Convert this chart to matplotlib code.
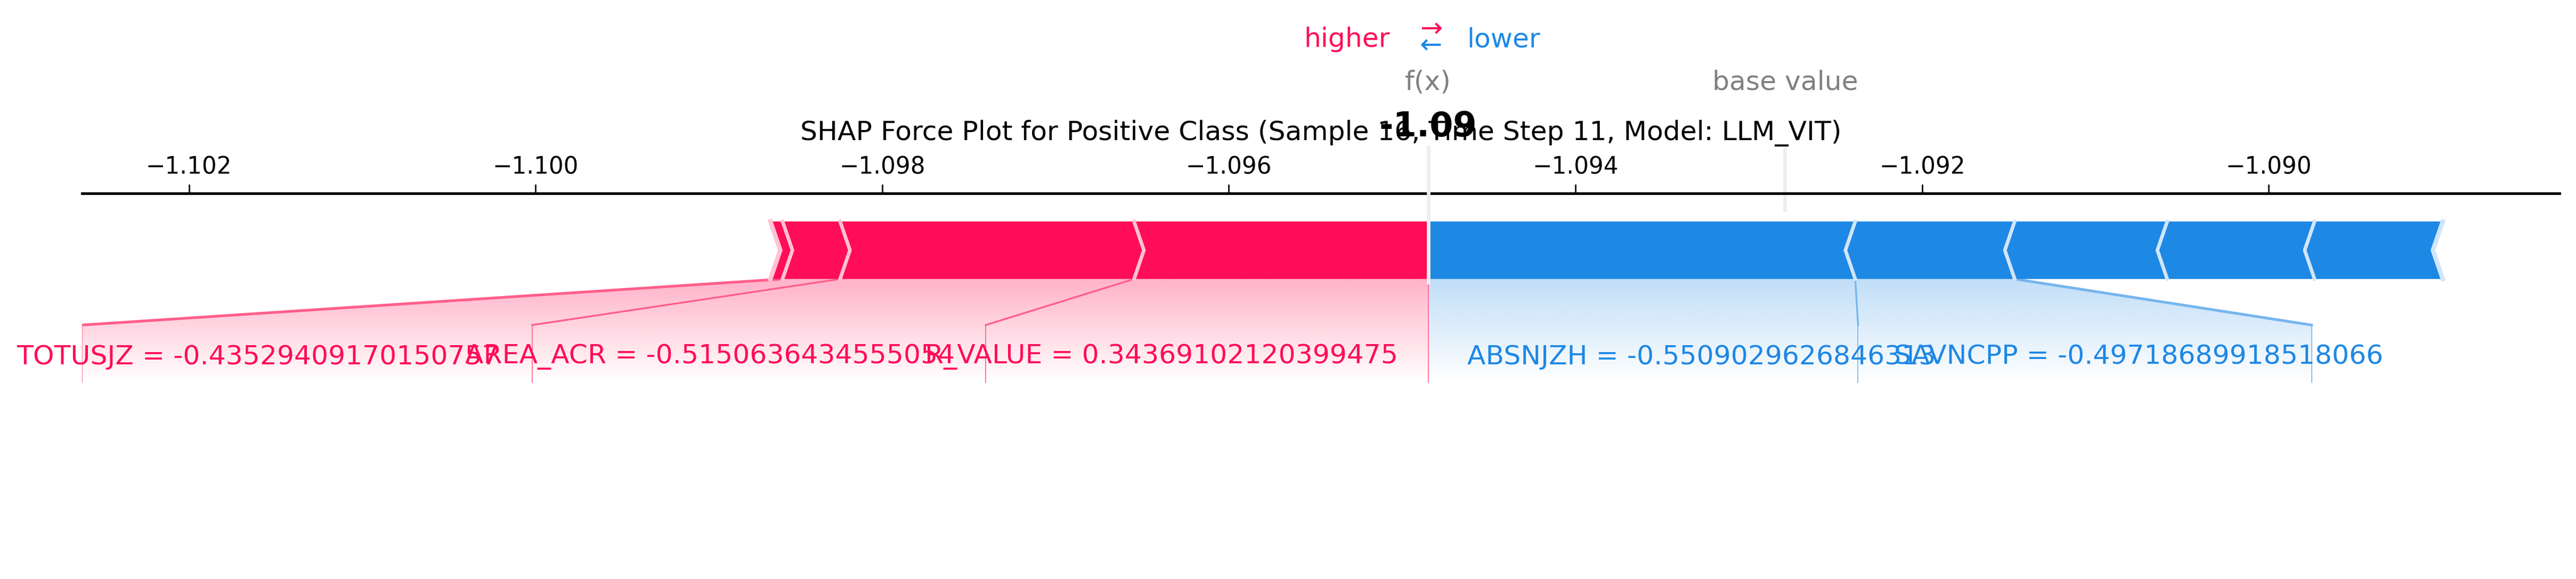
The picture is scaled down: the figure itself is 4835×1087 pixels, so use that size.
import numpy as np
import matplotlib
matplotlib.use('Agg')
import matplotlib.pyplot as plt
from matplotlib.patches import Polygon

# feature contributions
fx = -1.09485
pos_names = ['R_VALUE = 0.34369102120399475', 'AREA_ACR = -0.5150636434555054',
             'TOTUSJZ = -0.43529409170150757', '']
pos_vals = [0.001697, 0.001696, 0.000332, 0.00007]
neg_names = ['ABSNJZH = -0.5509029626846313', 'SAVNCPP = -0.49718689918518066', '', '', '']
neg_vals = [0.002464, 0.00092, 0.00088, 0.00085, 0.00074]
base_value = fx + sum(neg_vals) - sum(pos_vals)
xticks = [-1.102, -1.100, -1.098, -1.096, -1.094, -1.092, -1.090]
title = 'SHAP Force Plot for Positive Class (Sample 16, Time Step 11, Model: LLM_VIT)'

RED = '#ff0d57'
BLUE = '#1e88e5'

def px2x(px):
    # pixel column of the 1568-wide preview -> data value
    return -1.102 + (px - 115) / 105.5 * 0.001

W, H = 1568, 352.5
fig = plt.figure(figsize=(20, 4.5), dpi=241.75)
ax = fig.add_axes([50 / W, 0, (1558 - 50) / W, 1 - 118 / H])
ax.set_xlim(px2x(50), px2x(1558))
ax.set_ylim(H, 118)
for s in ['left', 'right', 'bottom']:
    ax.spines[s].set_visible(False)
ax.spines['top'].set_linewidth(1.5)
ax.xaxis.tick_top()
ax.set_xticks(xticks)
ax.set_xticklabels([f'{t:.3f}'.replace('-', '\u2212') for t in xticks], fontsize=13)
ax.tick_params(axis='x', length=5, width=0.8)
ax.set_yticks([])

top, mid, bot = 135, 152.5, 170
knee, lbot, ty = 198, 233, 217
w = px2x(6) - px2x(0)

red_edges = [fx]
for v in pos_vals:
    red_edges.append(red_edges[-1] - v)
blue_edges = [fx]
for v in neg_vals:
    blue_edges.append(blue_edges[-1] + v)

def grad(poly_pts, color, amax):
    rgb = matplotlib.colors.to_rgb(color)
    a = np.linspace(amax, 0.0, 100)
    img = np.zeros((100, 2, 4))
    img[..., :3] = rgb
    img[..., 3] = a[:, None]
    xs = [p[0] for p in poly_pts]
    im = ax.imshow(img, extent=(min(xs), max(xs), lbot, bot), aspect='auto',
                   origin='upper', zorder=1, interpolation='bilinear')
    patch = Polygon(poly_pts, closed=True, facecolor='none', edgecolor='none')
    ax.add_patch(patch)
    im.set_clip_path(patch)

# label anchors (pixel columns) of text lines
red_line_px = [600, 324, 50]
red_text_px = [563, 283, 10]
blue_line_px = [1131, 1407]
blue_text_px = [893, 1153]

grad([(red_edges[3], bot), (fx, bot), (fx, lbot), (px2x(50), lbot), (px2x(50), knee)], RED, 0.32)
grad([(fx, bot), (blue_edges[2], bot), (px2x(1407), knee), (px2x(1407), lbot), (fx, lbot)], BLUE, 0.28)

for i in range(len(pos_vals)):
    R, L = red_edges[i], red_edges[i + 1]
    wr = 0 if i == 0 else w
    ax.add_patch(Polygon([(L, top), (R, top), (R + wr, mid), (R, bot), (L, bot), (L + w, mid)],
                         closed=True, facecolor=RED, edgecolor='none', zorder=3))
    if i > 0:
        ax.plot([R, R + w, R], [top, mid, bot], color='#ffc3d5', lw=2, zorder=4)
L = red_edges[-1]
ax.plot([L, L + w, L], [top, mid, bot], color='#ffc3d5', lw=2.5, zorder=4)

for i in range(len(neg_vals)):
    L, R = blue_edges[i], blue_edges[i + 1]
    wl = 0 if i == 0 else w
    ax.add_patch(Polygon([(L, top), (R, top), (R - w, mid), (R, bot), (L, bot), (L - wl, mid)],
                         closed=True, facecolor=BLUE, edgecolor='none', zorder=3))
    if i > 0:
        ax.plot([L, L - w, L], [top, mid, bot], color='#d1e6fa', lw=2, zorder=4)
R = blue_edges[-1]
ax.plot([R, R - w, R], [top, mid, bot], color='#d1e6fa', lw=2.5, zorder=4)

for i, name in enumerate(pos_names[:3]):
    x0 = red_edges[i + 1]
    xl = px2x(red_line_px[i])
    ax.plot([x0, xl], [bot, knee], color='#ff5e8a', lw=1.5 if i == 2 else 1, zorder=2)
    ax.plot([xl, xl], [knee, lbot], color='#ff5e8a', lw=0.5, zorder=2)
    ax.text(px2x(red_text_px[i]), ty, name, color=RED, fontsize=15, va='center', ha='left', zorder=5)
for i, name in enumerate(neg_names[:2]):
    x0 = blue_edges[i + 1]
    xl = px2x(blue_line_px[i])
    ax.plot([x0, xl], [bot, knee], color='#76b5ee', lw=1.5 if i == 1 else 1, zorder=2)
    ax.plot([xl, xl], [knee, lbot], color='#76b5ee', lw=0.5, zorder=2)
    ax.text(px2x(blue_text_px[i]), ty, name, color=BLUE, fontsize=15, va='center', ha='left', zorder=5)
ax.plot([fx, fx], [bot, lbot], color='#ff5e8a', lw=0.5, zorder=2)

# f(x) and base value markers
ax.plot([fx, fx], [90, bot + 2], color='#eeeeee', lw=2, zorder=5, clip_on=False)
ax.plot([base_value, base_value], [90, 128], color='#eeeeee', lw=2, zorder=0, clip_on=False)
ax.text(fx, 50, 'f(x)', color='gray', fontsize=15, ha='center', va='center', clip_on=False)
ax.text(base_value, 50, 'base value', color='gray', fontsize=15, ha='center', va='center', clip_on=False)
ax.text(fx, 77, f'{fx:.2f}', color='black', fontsize=19, fontweight='bold', ha='center', va='center', clip_on=False)

# legend
ax.text(px2x(846), 24, 'higher', color=RED, fontsize=15, ha='right', va='center', clip_on=False)
ax.text(px2x(893), 24, 'lower', color=BLUE, fontsize=15, ha='left', va='center', clip_on=False)
ax.text(px2x(871), 18, '\u2192', color=RED, fontsize=15, ha='center', va='center', clip_on=False)
ax.text(px2x(871), 28, '\u2190', color=BLUE, fontsize=15, ha='center', va='center', clip_on=False)

fig.text(804 / W, 1 - 81 / H, title, fontsize=15, ha='center', va='center')

fig.savefig('out.png', dpi=241.75)
